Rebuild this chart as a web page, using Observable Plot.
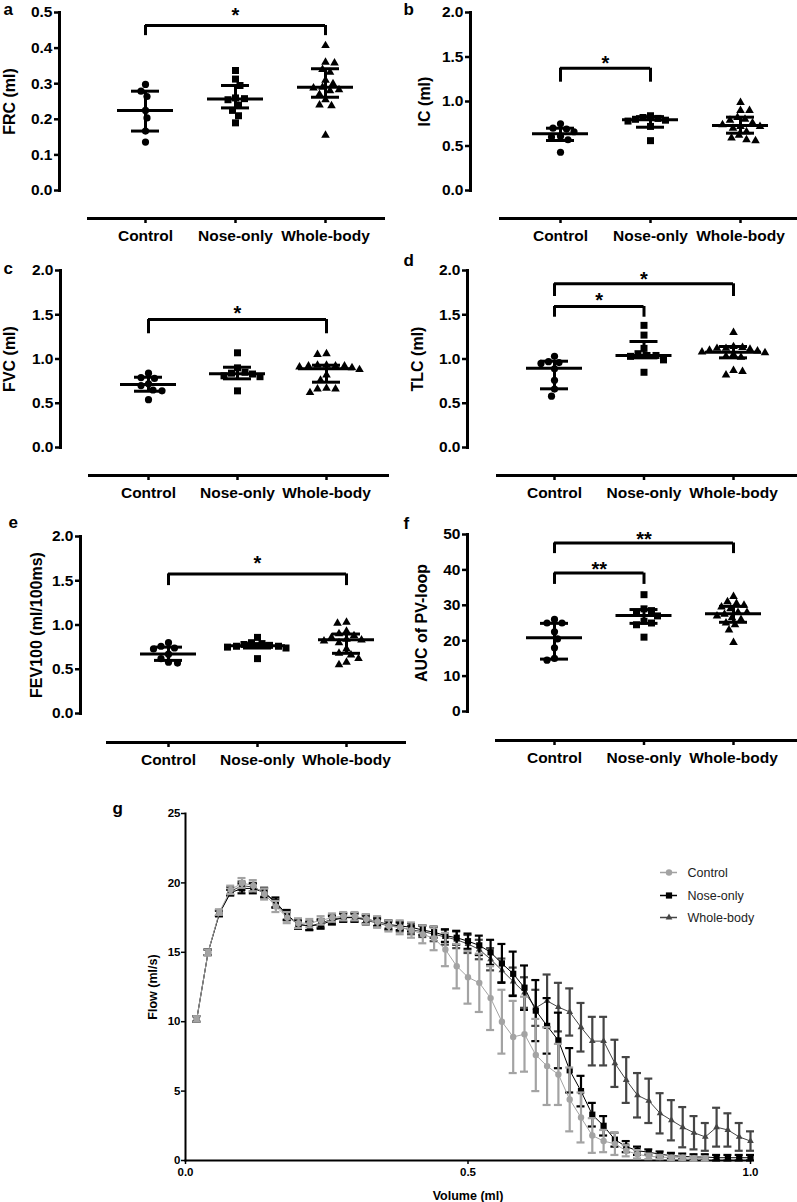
<!DOCTYPE html>
<html><head><meta charset="utf-8">
<script src="https://cdn.jsdelivr.net/npm/d3@7"></script>
<script src="https://cdn.jsdelivr.net/npm/@observablehq/plot@0.6"></script>
<style>
html,body{margin:0;padding:0;background:#fff;}
#fig{position:relative;width:797px;height:1202px;overflow:hidden;background:#fff;}
#fig svg{position:absolute;overflow:visible;}
</style></head>
<body><div id="fig"></div>
<script>
// ---------- categories ----------
const groups = ["Control", "Nose-only", "Whole-body"];

// ---------- panel a: FRC (ml) ----------
const frcControl = [0.298, 0.279, 0.264, 0.225, 0.204, 0.167, 0.136];
const frcNose = [0.337, 0.313, 0.295, 0.26, 0.258, 0.255, 0.24, 0.225, 0.21, 0.19];
const frcWhole = [0.407, 0.36, 0.358, 0.34, 0.332, 0.31, 0.30, 0.29, 0.288, 0.283, 0.28, 0.27, 0.255, 0.24, 0.238, 0.155];
const frcMid = [0.225, 0.257, 0.290];
const frcLow = [0.167, 0.232, 0.262];
const frcHigh = [0.279, 0.295, 0.342];
const frcSig = [{from: 0, to: 2, top: 0.4635, leg: 0.435, star: 0.506, label: "*"}];

// ---------- panel b: IC (ml) ----------
const icControl = [0.75, 0.70, 0.69, 0.66, 0.61, 0.60, 0.57, 0.43];
const icNose = [0.84, 0.82, 0.81, 0.80, 0.79, 0.78, 0.72, 0.56];
const icWhole = [0.99, 0.90, 0.90, 0.82, 0.80, 0.79, 0.76, 0.74, 0.72, 0.72, 0.70, 0.66, 0.62, 0.59, 0.57, 0.56];
const icMid = [0.637, 0.794, 0.73];
const icLow = [0.562, 0.711, 0.644];
const icHigh = [0.70, 0.83, 0.824];
const icSig = [{from: 0, to: 1, top: 1.374, leg: 1.217, star: 1.48, label: "*"}];

// ---------- panel c: FVC (ml) ----------
const fvcControl = [0.84, 0.79, 0.78, 0.72, 0.70, 0.65, 0.64, 0.54];
const fvcNose = [1.07, 0.90, 0.85, 0.84, 0.83, 0.81, 0.80, 0.64];
const fvcWhole = [1.06, 1.05, 0.93, 0.93, 0.92, 0.92, 0.92, 0.91, 0.90, 0.88, 0.82, 0.76, 0.67, 0.66, 0.66, 0.62];
const fvcMid = [0.712, 0.833, 0.889];
const fvcLow = [0.636, 0.776, 0.738];
const fvcHigh = [0.794, 0.907, 0.93];
const fvcSig = [{from: 0, to: 2, top: 1.446, leg: 1.285, star: 1.567, label: "*"}];

// ---------- panel d: TLC (ml) ----------
const tlcControl = [1.03, 0.97, 0.96, 0.95, 0.89, 0.76, 0.66, 0.58];
const tlcNose = [1.38, 1.27, 1.12, 1.06, 1.04, 1.04, 1.03, 0.99, 0.85];
const tlcWhole = [1.30, 1.14, 1.13, 1.12, 1.12, 1.11, 1.10, 1.09, 1.08, 1.07, 1.05, 1.03, 1.02, 0.87, 0.86, 0.82];
const tlcMid = [0.896, 1.04, 1.077];
const tlcLow = [0.663, 1.013, 1.013];
const tlcHigh = [0.975, 1.198, 1.141];
const tlcSig = [
  {from: 0, to: 2, top: 1.85, leg: 1.706, star: 1.955, label: "*"},
  {from: 0, to: 1, top: 1.593, leg: 1.472, star: 1.717, label: "*"}
];

// ---------- panel e: FEV100 (ml/100ms) ----------
const fevControl = [0.80, 0.76, 0.74, 0.73, 0.67, 0.62, 0.58, 0.57];
const fevNose = [0.86, 0.80, 0.79, 0.78, 0.77, 0.76, 0.76, 0.75, 0.74, 0.62];
const fevWhole = [1.03, 1.02, 0.93, 0.90, 0.88, 0.86, 0.84, 0.83, 0.82, 0.80, 0.73, 0.68, 0.66, 0.62, 0.58, 0.55];
const fevMid = [0.672, 0.766, 0.834];
const fevLow = [0.60, 0.74, 0.68];
const fevHigh = [0.75, 0.79, 0.898];
const fevSig = [{from: 0, to: 2, top: 1.577, leg: 1.445, star: 1.746, label: "*"}];

// ---------- panel f: AUC of PV-loop ----------
const aucControl = [26, 25, 25, 22.5, 20.5, 18, 15, 14.5];
const aucNose = [33, 29, 28.5, 28, 27, 25.5, 25, 24.5, 21];
const aucWhole = [32.5, 31, 30.5, 30, 29.5, 29, 28, 28, 27.5, 27, 26.5, 26, 25, 24.5, 23, 19.5];
const aucMid = [20.8, 27.1, 27.6];
const aucLow = [14.8, 24.9, 25.2];
const aucHigh = [24.9, 28.8, 29.7];
const aucSig = [
  {from: 0, to: 2, top: 47.6, leg: 44.6, star: 50.1, label: "**"},
  {from: 0, to: 1, top: 39.1, leg: 35.9, star: 41.6, label: "**"}
];

// ---------- panel g: flow-volume curves ----------
const volume = [0.02, 0.04, 0.06, 0.08, 0.10, 0.12, 0.14, 0.16, 0.18, 0.20,
  0.22, 0.24, 0.26, 0.28, 0.30, 0.32, 0.34, 0.36, 0.38, 0.40,
  0.42, 0.44, 0.46, 0.48, 0.50, 0.52, 0.54, 0.56, 0.58, 0.60,
  0.62, 0.64, 0.66, 0.68, 0.70, 0.72, 0.74, 0.76, 0.78, 0.80,
  0.82, 0.84, 0.86, 0.88, 0.90, 0.92, 0.94, 0.96, 0.98, 1.00];
const controlFlow = [10.2, 15.0, 17.9, 19.5, 20.0, 19.8, 19.2, 18.3, 17.5, 17.1,
  17.1, 17.3, 17.5, 17.6, 17.6, 17.4, 17.2, 16.9, 16.8, 16.6,
  16.3, 16.0, 15.2, 14.0, 13.2, 12.8, 11.7, 10.0, 8.9, 9.1,
  7.6, 6.8, 6.2, 4.4, 3.1, 1.8, 1.4, 1.2, 0.7, 0.45,
  0.3, 0.25, 0.2, 0.2, 0.15, 0.15];
const controlSD = [0.2, 0.2, 0.2, 0.3, 0.35, 0.4, 0.4, 0.4, 0.4, 0.35,
  0.3, 0.3, 0.3, 0.3, 0.3, 0.35, 0.4, 0.4, 0.5, 0.55,
  0.65, 0.85, 1.2, 1.6, 1.9, 2.1, 2.3, 2.3, 2.6, 2.7,
  2.6, 2.8, 2.2, 2.3, 1.8, 1.25, 0.8, 0.8, 0.4, 0.3,
  0.2, 0.15, 0.15, 0.15, 0.15, 0.15];
const noseFlow = [10.2, 15.0, 17.8, 19.3, 19.6, 19.6, 19.3, 18.6, 17.7, 17.0,
  16.9, 17.0, 17.3, 17.5, 17.5, 17.4, 17.2, 17.0, 16.9, 16.8,
  16.6, 16.45, 16.2, 16.05, 15.8, 15.5, 15.0, 14.2, 13.45, 12.45,
  10.8, 9.7, 8.65, 6.5, 5.0, 3.3, 2.5, 1.5, 1.0, 0.7,
  0.6, 0.45, 0.35, 0.3, 0.25, 0.25, 0.2, 0.2, 0.2, 0.2];
const noseSD = [0.2, 0.2, 0.2, 0.2, 0.35, 0.35, 0.35, 0.35, 0.35, 0.3,
  0.3, 0.3, 0.3, 0.3, 0.3, 0.3, 0.3, 0.3, 0.3, 0.3,
  0.35, 0.4, 0.45, 0.5, 0.55, 0.7, 0.9, 1.4, 1.6, 1.6,
  2.2, 2.0, 2.0, 1.6, 1.1, 0.85, 0.7, 0.5, 0.4, 0.3,
  0.2, 0.2, 0.2, 0.2, 0.2, 0.2, 0.2, 0.2, 0.2, 0.2];
const wholeFlow = [10.2, 15.0, 17.8, 19.4, 19.8, 19.7, 19.3, 18.5, 17.6, 17.0,
  16.9, 17.1, 17.4, 17.5, 17.5, 17.3, 17.1, 16.9, 16.8, 16.6,
  16.5, 16.3, 16.1, 15.9, 15.6, 15.2, 14.5, 13.7, 12.9, 12.1,
  11.0, 11.5, 11.05, 10.7, 9.6, 8.6, 8.6, 7.0, 5.8, 4.7,
  4.3, 3.4, 2.9, 2.4, 2.0, 1.7, 2.4, 2.2, 1.7, 1.4];
const wholeSD = [0.2, 0.2, 0.2, 0.3, 0.3, 0.3, 0.3, 0.3, 0.3, 0.3,
  0.3, 0.3, 0.3, 0.3, 0.3, 0.3, 0.3, 0.3, 0.3, 0.3,
  0.4, 0.5, 0.55, 0.6, 0.65, 0.7, 0.8, 0.85, 1.0, 1.1,
  1.3, 1.9, 1.75, 1.7, 1.75, 1.75, 1.75, 1.7, 1.65, 1.6,
  1.6, 1.45, 1.45, 1.45, 1.2, 1.0, 1.4, 1.2, 1.0, 0.7];

// ---------- styling / layout ----------
const FONT = "'Liberation Sans', Arial, Helvetica, sans-serif";
const symbols = ["circle", "square", "triangle"];
const symR = {circle: 3.6, square: 3.95, triangle: 3.2};
const fig = document.getElementById("fig");

function place(svg, left, top) {
  svg.style.left = left + "px";
  svg.style.top = top + "px";
  fig.appendChild(svg);
}

// simple beeswarm offsets (pixels) so that dots of close values sit side by side
function swarm(vals, ppu, diam) {
  const idx = d3.range(vals.length).sort((a, b) => d3.descending(vals[a], vals[b]));
  const placed = [], off = new Array(vals.length).fill(0);
  let flip = 1;
  for (const i of idx) {
    const y = vals[i] * ppu;
    const cands = [0];
    for (let k = 1; k <= 60; k++) cands.push(flip * k * 1.5, -flip * k * 1.5);
    for (const c of cands) {
      if (placed.every(p => Math.hypot(p.x - c, p.y - y) >= diam)) {
        off[i] = c; placed.push({x: c, y}); break;
      }
    }
    flip = -flip;
  }
  return off;
}

function scatterPanel(L, points, mid, low, high, sig, ticks, fmt, ylabel) {
  const ppu = (L.yBottom - L.yTop) / L.max;
  const xd = px => (px - L.cat0) / L.step;
  const yd = py => (L.yBottom - py) / ppu;
  const summary = groups.map((g, i) => ({i, mid: mid[i], low: low[i], high: high[i]}));
  const meanHalf = 28 / L.step, capHalf = 14 / L.step;
  const dotMarks = points.map((vals, g) => {
    const offs = swarm(vals, ppu, 7.6);
    const data = vals.map((v, k) => ({x: g + offs[k] / L.step, y: v}));
    return Plot.dot(data, {x: "x", y: "y", symbol: symbols[g], r: symR[symbols[g]], fill: "#000", stroke: "none"});
  });
  const svg = Plot.plot({
    width: L.width, height: L.height,
    marginLeft: L.yAxisX - L.left,
    marginTop: L.yTop - L.top,
    marginBottom: L.height - (L.xAxisY - L.top),
    marginRight: L.left + L.width - L.xLineRight,
    x: {type: "linear", domain: [0, 2], range: [L.cat0 - L.left, L.cat0 + 2 * L.step - L.left]},
    y: {type: "linear", domain: [0, L.max], range: [L.yBottom - L.top, L.yTop - L.top]},
    style: {background: "transparent", fontFamily: FONT, color: "#000", overflow: "visible"},
    marks: [
      Plot.frame({anchor: "left", insetBottom: L.xAxisY - L.yBottom, strokeWidth: 3}),
      Plot.frame({anchor: "bottom", insetLeft: L.xLineLeft - L.yAxisX, strokeWidth: 3}),
      Plot.axisY({anchor: "left", ticks, tickFormat: fmt, tickSize: 5, tickPadding: 2, strokeWidth: 2.5,
        fontSize: 15.5, fontWeight: "bold", label: null}),
      Plot.axisX({anchor: "bottom", ticks: [0, 1, 2], tickFormat: i => groups[i], tickSize: 5, tickPadding: 6,
        strokeWidth: 2.5, fontSize: 15.5, fontWeight: "bold", label: null}),
      ...dotMarks,
      Plot.ruleY(summary, {y: "mid", x1: d => d.i - meanHalf, x2: d => d.i + meanHalf, strokeWidth: 3}),
      Plot.ruleX(summary, {x: "i", y1: "low", y2: "high", strokeWidth: 3}),
      Plot.ruleY(summary, {y: "low", x1: d => d.i - capHalf, x2: d => d.i + capHalf, strokeWidth: 3}),
      Plot.ruleY(summary, {y: "high", x1: d => d.i - capHalf, x2: d => d.i + capHalf, strokeWidth: 3}),
      Plot.ruleY(sig, {y: "top", x1: "from", x2: "to", strokeWidth: 3}),
      Plot.ruleX(sig, {x: "from", y1: "leg", y2: "top", strokeWidth: 3}),
      Plot.ruleX(sig, {x: "to", y1: "leg", y2: "top", strokeWidth: 3}),
      Plot.text(sig, {x: d => (d.from + d.to) / 2, y: "star", text: "label", fontSize: 20, fontWeight: "bold", dy: 5}),
      Plot.text([ylabel], {x: () => xd(L.labelX), y: () => L.max / 2, text: d => d, rotate: -90,
        fontSize: 16, fontWeight: "bold", lineAnchor: "middle"}),
      Plot.text([L.letter], {x: () => xd(L.letterX), y: () => yd(L.letterY), text: d => d,
        textAnchor: "start", lineAnchor: "bottom", fontSize: 17, fontWeight: "bold"})
    ]
  });
  place(svg, L.left, L.top);
}

const layoutA = {left: 0, top: 0, width: 398, height: 250, yAxisX: 59, yTop: 12, yBottom: 190, xAxisY: 218,
  xLineLeft: 88, xLineRight: 383, cat0: 145, step: 90, max: 0.5, labelX: 9, letterX: 3, letterY: 14, letter: "a"};
const layoutB = {left: 398, top: 0, width: 399, height: 250, yAxisX: 470, yTop: 12, yBottom: 190, xAxisY: 218,
  xLineLeft: 500, xLineRight: 797, cat0: 560, step: 90, max: 2, labelX: 424, letterX: 403, letterY: 14, letter: "b"};
const layoutC = {left: 0, top: 250, width: 398, height: 255, yAxisX: 60, yTop: 270, yBottom: 447, xAxisY: 475,
  xLineLeft: 89, xLineRight: 387, cat0: 148, step: 89, max: 2, labelX: 9, letterX: 3, letterY: 273, letter: "c"};
const layoutD = {left: 398, top: 250, width: 399, height: 255, yAxisX: 467, yTop: 270, yBottom: 447, xAxisY: 475,
  xLineLeft: 497, xLineRight: 797, cat0: 554, step: 89.5, max: 2, labelX: 417.5, letterX: 403, letterY: 265, letter: "d"};
const layoutE = {left: 0, top: 505, width: 410, height: 270, yAxisX: 80, yTop: 536, yBottom: 713, xAxisY: 742,
  xLineLeft: 107, xLineRight: 404, cat0: 168, step: 89, max: 2, labelX: 36, letterX: 8, letterY: 527, letter: "e"};
const layoutF = {left: 398, top: 505, width: 399, height: 270, yAxisX: 467, yTop: 534, yBottom: 711, xAxisY: 740,
  xLineLeft: 496, xLineRight: 797, cat0: 554, step: 89.5, max: 50, labelX: 421.5, letterX: 403, letterY: 528, letter: "f"};

const ticks05 = [0, 0.5, 1, 1.5, 2];
scatterPanel(layoutA, [frcControl, frcNose, frcWhole], frcMid, frcLow, frcHigh, frcSig, [0, 0.1, 0.2, 0.3, 0.4, 0.5], d3.format(".1f"), "FRC (ml)");
scatterPanel(layoutB, [icControl, icNose, icWhole], icMid, icLow, icHigh, icSig, ticks05, d3.format(".1f"), "IC (ml)");
scatterPanel(layoutC, [fvcControl, fvcNose, fvcWhole], fvcMid, fvcLow, fvcHigh, fvcSig, ticks05, d3.format(".1f"), "FVC (ml)");
scatterPanel(layoutD, [tlcControl, tlcNose, tlcWhole], tlcMid, tlcLow, tlcHigh, tlcSig, ticks05, d3.format(".1f"), "TLC (ml)");
scatterPanel(layoutE, [fevControl, fevNose, fevWhole], fevMid, fevLow, fevHigh, fevSig, ticks05, d3.format(".1f"), "FEV100 (ml/100ms)");
scatterPanel(layoutF, [aucControl, aucNose, aucWhole], aucMid, aucLow, aucHigh, aucSig, [0, 10, 20, 30, 40, 50], d3.format("d"), "AUC of PV-loop");

// ---------- panel g ----------
const seriesNames = ["Control", "Nose-only", "Whole-body"];
const seriesColors = ["#a3a3a3", "#000000", "#454545"];
const seriesSymbols = ["circle", "square", "triangle"];
const seriesR = [3.2, 3.5, 2.5];
const seriesFlow = [controlFlow, noseFlow, wholeFlow];
const seriesSD = [controlSD, noseSD, wholeSD];

(function panelG() {
  const G = {left: 0, top: 775, width: 797, height: 427, x0: 185, x1: 750, y0: 1160, yTop: 813};
  const ppx = (G.x1 - G.x0), ppy = (G.y0 - G.yTop) / 25;
  const xd = px => (px - G.x0) / ppx;
  const yd = py => (G.y0 - py) / ppy;
  const cap = 4 / ppx;
  const marks = [
    Plot.frame({anchor: "left", strokeWidth: 2}),
    Plot.frame({anchor: "bottom", strokeWidth: 2}),
    Plot.axisY({anchor: "left", ticks: [0, 5, 10, 15, 20, 25], tickSize: 4, tickPadding: 1, strokeWidth: 1.5,
      fontSize: 11.5, fontWeight: "bold", label: null}),
    Plot.axisX({anchor: "bottom", ticks: [0, 0.5, 1], tickFormat: d3.format(".1f"), tickSize: 4, tickPadding: 3,
      strokeWidth: 1.5, fontSize: 11.5, fontWeight: "bold", label: null})
  ];
  for (const s of [2, 1, 0]) {
    const rows = seriesFlow[s].map((f, i) => ({x: volume[i], y: f, sd: seriesSD[s][i]}));
    const col = seriesColors[s];
    marks.push(
      Plot.line(rows, {x: "x", y: "y", stroke: col, strokeWidth: 1}),
      Plot.ruleX(rows, {x: "x", y1: d => Math.max(0, d.y - d.sd), y2: d => d.y + d.sd, stroke: col, strokeWidth: 2.2}),
      Plot.ruleY(rows, {y: d => d.y + d.sd, x1: d => d.x - cap, x2: d => d.x + cap, stroke: col, strokeWidth: 2.2}),
      Plot.ruleY(rows, {y: d => Math.max(0, d.y - d.sd), x1: d => d.x - cap, x2: d => d.x + cap, stroke: col, strokeWidth: 2.2}),
      Plot.dot(rows, {x: "x", y: "y", symbol: seriesSymbols[s], r: seriesR[s], fill: col, stroke: "none"})
    );
  }
  // legend
  const legendY = [872, 895, 917];
  seriesNames.forEach((name, s) => {
    const row = [{name, y: yd(legendY[s])}];
    marks.push(
      Plot.ruleY(row, {y: "y", x1: () => xd(660), x2: () => xd(677), stroke: seriesColors[s], strokeWidth: 1.5}),
      Plot.dot(row, {x: () => xd(668.5), y: "y", symbol: seriesSymbols[s], r: seriesR[s], fill: seriesColors[s], stroke: "none"}),
      Plot.text(row, {x: () => xd(687), y: "y", text: "name", textAnchor: "start", lineAnchor: "middle",
        fontSize: 12.5, fill: "#222"})
    );
  });
  marks.push(
    Plot.text(["Flow (ml/s)"], {x: () => xd(152), y: () => 12.5, text: d => d, rotate: -90, fontSize: 12.5, fontWeight: "bold", lineAnchor: "middle"}),
    Plot.text(["Volume (ml)"], {x: () => 0.5, y: () => yd(1195), text: d => d, fontSize: 12.5, fontWeight: "bold", lineAnchor: "middle"}),
    Plot.text(["g"], {x: () => xd(112), y: () => yd(813), text: d => d, textAnchor: "start", lineAnchor: "bottom", fontSize: 17, fontWeight: "bold"})
  );
  const svg = Plot.plot({
    width: G.width, height: G.height,
    marginLeft: G.x0 - G.left, marginRight: G.left + G.width - G.x1,
    marginTop: G.yTop - G.top, marginBottom: G.top + G.height - G.y0,
    x: {type: "linear", domain: [0, 1]},
    y: {type: "linear", domain: [0, 25]},
    style: {background: "transparent", fontFamily: FONT, color: "#000", overflow: "visible"},
    marks
  });
  place(svg, G.left, G.top);
})();
</script>
</body></html>
